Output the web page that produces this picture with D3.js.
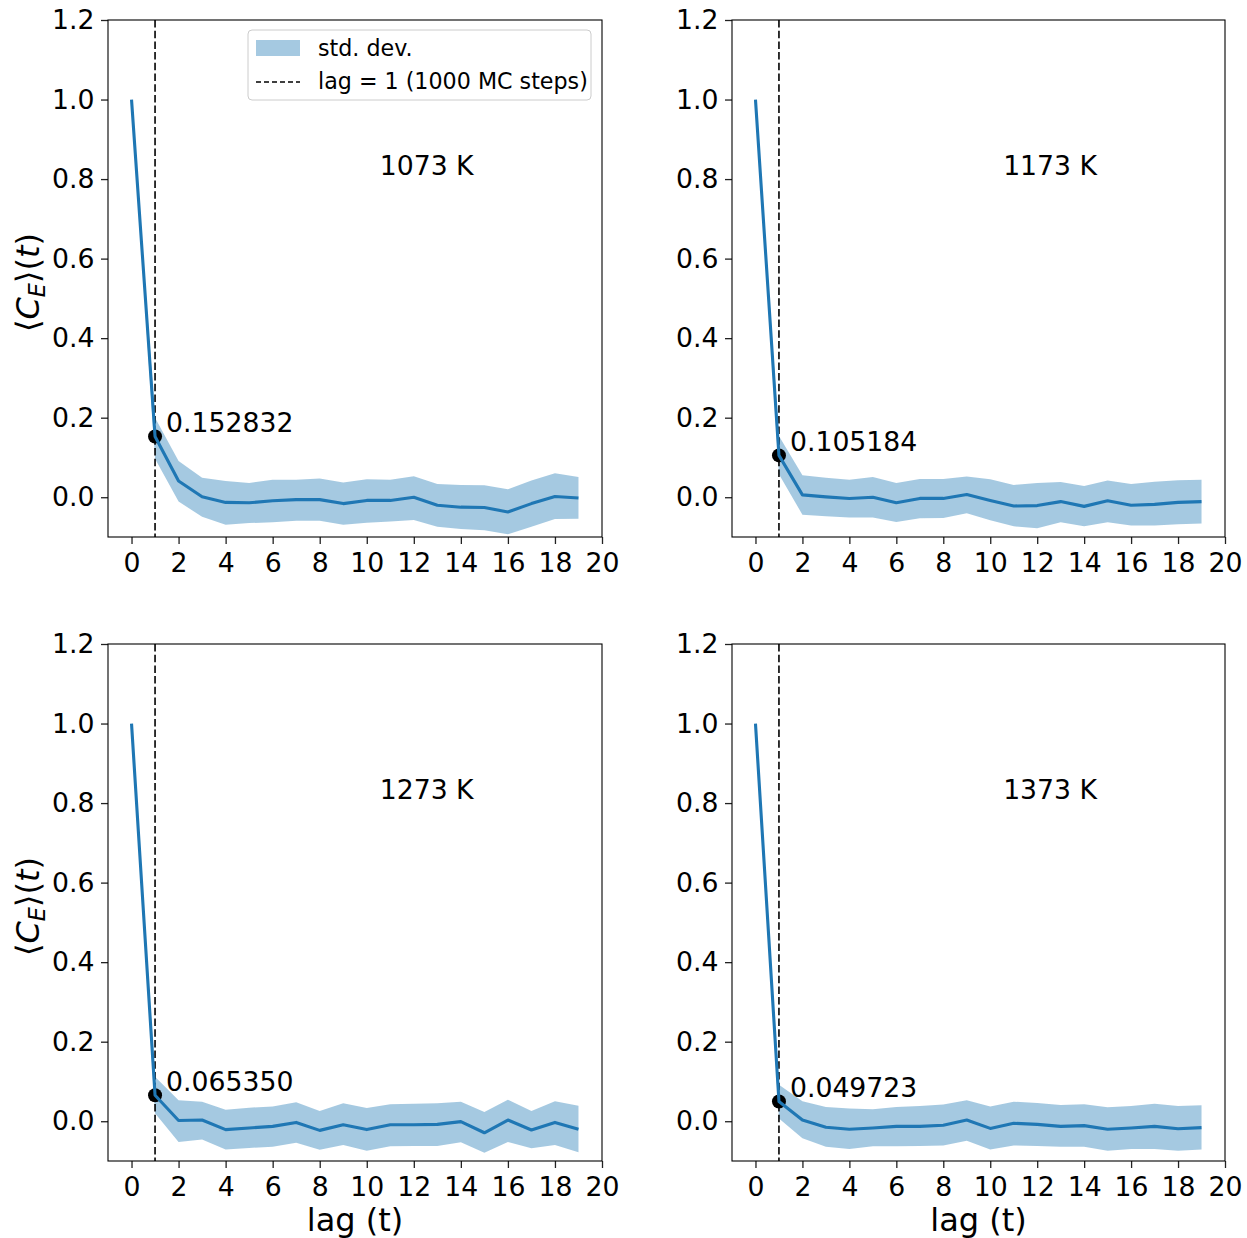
<!DOCTYPE html>
<html><head><meta charset="utf-8">
<script src="https://cdn.jsdelivr.net/npm/d3@7"></script>
<style>
body{margin:0;background:#fff}
svg{display:block}
text{font-family:"DejaVu Sans",sans-serif;fill:#000}
</style>
</head><body>
<svg id="c" width="1247" height="1238"></svg>
<script>
// ---------- data ----------
const lags = [0,1,2,3,4,5,6,7,8,9,10,11,12,13,14,15,16,17,18,19];
const temperatures = ["1073 K","1173 K","1273 K","1373 K"];
const lag1Labels = ["0.152832","0.105184","0.065350","0.049723"];
const lag1Values = [0.152832,0.105184,0.065350,0.049723];

const mean1073  = [1.0,0.152832,0.041,0.001,-0.013,-0.014,-0.009,-0.006,-0.006,-0.016,-0.008,-0.008,0.0,-0.020,-0.025,-0.026,-0.037,-0.016,0.002,-0.002];
const upper1073 = [1.0,0.200,0.091,0.049,0.041,0.036,0.044,0.044,0.047,0.037,0.045,0.044,0.053,0.033,0.031,0.030,0.020,0.042,0.060,0.051];
const lower1073 = [1.0,0.097,-0.011,-0.049,-0.069,-0.065,-0.063,-0.059,-0.059,-0.069,-0.064,-0.061,-0.057,-0.074,-0.080,-0.083,-0.093,-0.074,-0.055,-0.054];

const mean1173  = [1.0,0.105184,0.006,0.001,-0.003,0.0,-0.014,-0.003,-0.003,0.007,-0.008,-0.022,-0.021,-0.011,-0.023,-0.009,-0.020,-0.018,-0.013,-0.011];
const upper1173 = [1.0,0.154,0.055,0.049,0.044,0.051,0.036,0.046,0.046,0.052,0.045,0.031,0.036,0.038,0.028,0.042,0.033,0.039,0.043,0.044];
const lower1173 = [1.0,0.058,-0.044,-0.048,-0.051,-0.051,-0.062,-0.053,-0.052,-0.040,-0.058,-0.073,-0.078,-0.063,-0.073,-0.063,-0.071,-0.071,-0.068,-0.066];

const mean1273  = [1.0,0.065350,0.002,0.003,-0.021,-0.017,-0.013,-0.003,-0.023,-0.009,-0.021,-0.009,-0.009,-0.008,-0.001,-0.029,0.003,-0.022,-0.003,-0.020];
const upper1273 = [1.0,0.112,0.053,0.049,0.029,0.034,0.037,0.048,0.026,0.045,0.033,0.043,0.044,0.045,0.049,0.023,0.054,0.026,0.050,0.039];
const lower1273 = [1.0,0.020,-0.052,-0.046,-0.071,-0.067,-0.064,-0.054,-0.072,-0.060,-0.074,-0.063,-0.062,-0.062,-0.053,-0.079,-0.052,-0.068,-0.060,-0.078];

const mean1373  = [1.0,0.049723,0.003,-0.015,-0.020,-0.017,-0.013,-0.013,-0.010,0.003,-0.018,-0.005,-0.008,-0.013,-0.011,-0.020,-0.017,-0.013,-0.019,-0.016];
const upper1373 = [1.0,0.092,0.050,0.036,0.032,0.030,0.036,0.038,0.042,0.053,0.037,0.049,0.046,0.041,0.043,0.035,0.038,0.044,0.038,0.040];
const lower1373 = [1.0,0.007,-0.043,-0.064,-0.070,-0.063,-0.063,-0.062,-0.061,-0.049,-0.071,-0.061,-0.062,-0.064,-0.064,-0.074,-0.070,-0.070,-0.074,-0.071];

const xTicks = [0,2,4,6,8,10,12,14,16,18,20];
const yTicks = [0.0,0.2,0.4,0.6,0.8,1.0,1.2];
const legendLabels = ["std. dev.","lag = 1 (1000 MC steps)"];

// ---------- layout ----------
const means = [mean1073,mean1173,mean1273,mean1373];
const uppers = [upper1073,upper1173,upper1273,upper1373];
const lowers = [lower1073,lower1173,lower1273,lower1373];
const frames = [
  {x:108,y:20,w:494,h:517},
  {x:732,y:20,w:493,h:517},
  {x:108,y:644,w:494,h:517},
  {x:732,y:644,w:493,h:517}
];
const blue = "#1f77b4";
const tickFont = 26.7, labelFont = 32, legendFont = 22.2;

const svg = d3.select("#c");

frames.forEach((f,i)=>{
  const g = svg.append("g").attr("transform",`translate(${f.x},${f.y})`);
  const xs = d3.scaleLinear().domain([-1,20]).range([0,f.w]);
  const ys = d3.scaleLinear().domain([-0.1,1.2]).range([f.h,0]);
  const rows = lags.map((l,k)=>({l, m:means[i][k], u:uppers[i][k], lo:lowers[i][k]}));

  // band
  g.append("path").datum(rows)
    .attr("d", d3.area().x(d=>xs(d.l)).y0(d=>ys(d.lo)).y1(d=>ys(d.u)))
    .attr("fill", blue).attr("fill-opacity",0.4).attr("stroke","none");

  // dashed vertical line at lag 1
  g.append("line")
    .attr("x1",xs(1)).attr("x2",xs(1)).attr("y1",0).attr("y2",f.h)
    .attr("stroke","#000").attr("stroke-width",1.6).attr("stroke-dasharray","7.5,3.2");

  // dot
  g.append("circle").attr("cx",xs(1)).attr("cy",ys(lag1Values[i])).attr("r",7).attr("fill","#000");

  // mean line
  g.append("path").datum(rows)
    .attr("d", d3.line().x(d=>xs(d.l)).y(d=>ys(d.m)))
    .attr("fill","none").attr("stroke",blue).attr("stroke-width",3.1)
    .attr("stroke-linejoin","round");

  // annotation
  g.append("text").attr("x",xs(1)+11).attr("y",ys(lag1Values[i])-4)
    .attr("font-size",tickFont).text(lag1Labels[i]);

  // temperature label
  g.append("text").attr("x",0.55*f.w).attr("y",f.h-0.7*f.h)
    .attr("font-size",tickFont).text(temperatures[i]);

  // axes
  const xa = g.append("g").attr("transform",`translate(0,${f.h})`)
    .call(d3.axisBottom(xs).tickValues(xTicks).tickSize(7).tickPadding(9.5).tickFormat(d3.format("d")));
  const ya = g.append("g")
    .call(d3.axisLeft(ys).tickValues(yTicks).tickSize(7).tickPadding(6.5).tickFormat(d3.format(".1f")));
  [xa,ya].forEach(a=>{
    a.select(".domain").remove();
    a.selectAll(".tick line").attr("stroke","#222").attr("stroke-width",1.3);
    a.selectAll(".tick text").attr("font-size",tickFont)
      .attr("font-family",'"DejaVu Sans",sans-serif').attr("fill","#000");
  });

  // frame
  g.append("rect").attr("x",0).attr("y",0).attr("width",f.w).attr("height",f.h)
    .attr("fill","none").attr("stroke","#000").attr("stroke-width",1.1);

  // x label on bottom row
  if (i>=2) {
    g.append("text").attr("x",f.w/2).attr("y",f.h+70).attr("text-anchor","middle")
      .attr("font-size",labelFont).text("lag (t)");
  }
  // y label on left column
  if (i%2===0) {
    const t = svg.append("text")
      .attr("transform",`translate(39,${f.y+f.h/2+4}) rotate(-90)`)
      .attr("text-anchor","middle").attr("font-size",labelFont);
    t.append("tspan").text("\u27E8");
    t.append("tspan").attr("font-style","italic").text("C");
    t.append("tspan").attr("font-style","italic").attr("font-size",22.4).attr("dy",6).text("E");
    t.append("tspan").attr("dy",-6).text("\u27E9(");
    t.append("tspan").attr("font-style","italic").text("t");
    t.append("tspan").text(")");
  }

  // legend on first panel
  if (i===0) {
    const lg = g.append("g").attr("transform","translate(140,10)");
    lg.append("rect").attr("x",0).attr("y",0).attr("width",343).attr("height",70)
      .attr("rx",4).attr("fill","#fff").attr("fill-opacity",0.8)
      .attr("stroke","#cccccc").attr("stroke-width",1);
    lg.append("rect").attr("x",8).attr("y",10).attr("width",44).attr("height",16)
      .attr("fill",blue).attr("fill-opacity",0.4);
    lg.append("line").attr("x1",8).attr("x2",52).attr("y1",52).attr("y2",52)
      .attr("stroke","#000").attr("stroke-width",1.4).attr("stroke-dasharray","5,3");
    lg.append("text").attr("x",70).attr("y",26).attr("font-size",legendFont).text(legendLabels[0]);
    lg.append("text").attr("x",70).attr("y",59).attr("font-size",legendFont).text(legendLabels[1]);
  }
});
</script>
</body></html>
